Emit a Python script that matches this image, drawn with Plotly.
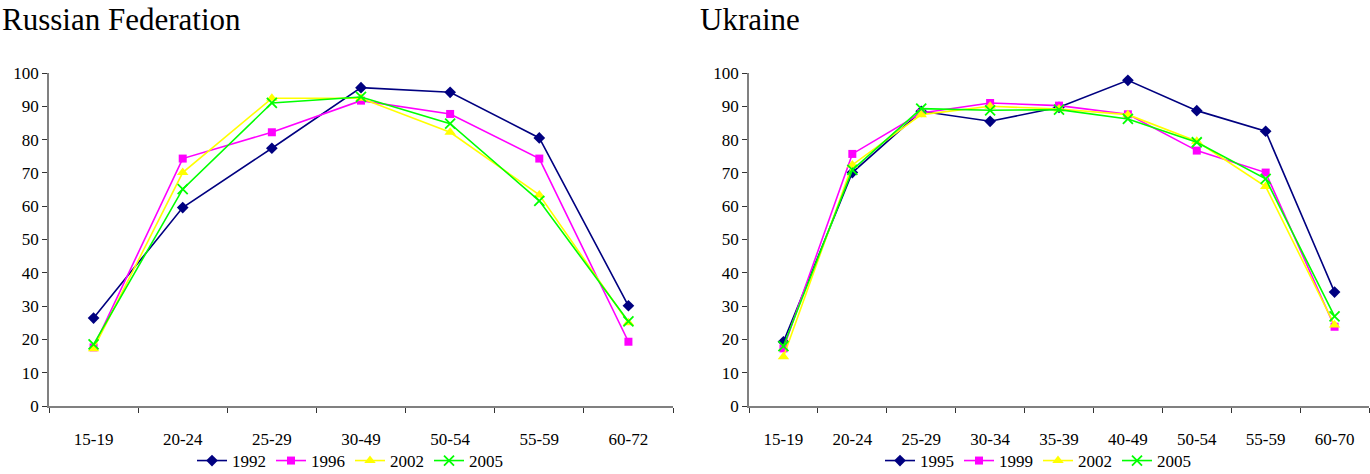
import plotly.graph_objects as go

# ---- data ----
ru_ages = ["15-19", "20-24", "25-29", "30-49", "50-54", "55-59", "60-72"]
ru_1992 = [26.4, 59.6, 77.4, 95.6, 94.2, 80.5, 30.1]
ru_1996 = [17.6, 74.3, 82.2, 91.7, 87.7, 74.3, 19.3]
ru_2002 = [17.2, 70.1, 92.4, 92.4, 82.2, 63.4, 25.0]
ru_2005 = [18.5, 65.1, 91.0, 92.8, 84.8, 61.6, 25.4]

ua_ages = ["15-19", "20-24", "25-29", "30-34", "35-39", "40-49", "50-54", "55-59", "60-70"]
ua_1995 = [19.3, 70.1, 88.5, 85.5, 89.7, 97.8, 88.7, 82.5, 34.2]
ua_1999 = [17.3, 75.7, 88.0, 91.0, 90.2, 87.6, 76.7, 70.1, 23.8]
ua_2002 = [14.8, 72.4, 87.5, 90.0, 89.2, 87.5, 79.5, 65.9, 24.3]
ua_2005 = [18.0, 70.9, 89.3, 88.8, 89.0, 86.2, 79.2, 68.2, 26.9]

ru_years = ["1992", "1996", "2002", "2005"]
ua_years = ["1995", "1999", "2002", "2005"]

styles = [
    dict(color="#000080", symbol="diamond", size=9),
    dict(color="#FF00FF", symbol="square", size=8),
    dict(color="#FFFF00", symbol="triangle-up", size=10),
    dict(color="#00FF00", symbol="x-thin", size=10),
]

FONT = "Liberation Serif"
fig = go.Figure()

def add(x, y, name, st, xa, ya, leg):
    marker = dict(symbol=st["symbol"], size=st["size"], color=st["color"])
    if st["symbol"] == "x-thin":
        marker["line"] = dict(color=st["color"], width=1.8)
    fig.add_trace(go.Scatter(
        x=x, y=y, name=name, mode="lines+markers",
        line=dict(color=st["color"], width=1.6),
        marker=marker, xaxis=xa, yaxis=ya, legend=leg,
    ))

for name, vals, st in zip(ru_years, [ru_1992, ru_1996, ru_2002, ru_2005], styles):
    add(ru_ages, vals, name, st, "x", "y", "legend")
for name, vals, st in zip(ua_years, [ua_1995, ua_1999, ua_2002, ua_2005], styles):
    add(ua_ages, vals, name, st, "x2", "y2", "legend2")

W, H = 1370, 474
ydom = [1 - 406 / H, 1 - 73 / H]

xcommon = dict(
    showline=True, linecolor="#808080", linewidth=1.5, automargin=False,
    ticks="outside", tickson="boundaries", ticklen=5, tickcolor="#333",
    showgrid=False, zeroline=False, ticklabelstandoff=17,
    tickfont=dict(family=FONT, size=17, color="#000"),
)
ycommon = dict(
    range=[0, 100], dtick=10, showline=True, linecolor="#808080", linewidth=1.5,
    automargin=False,
    ticks="outside", ticklen=5, tickcolor="#333", showgrid=False, zeroline=False,
    tickfont=dict(family=FONT, size=17, color="#000"),
)

legcommon = dict(orientation="h", yref="container", y=(474 - 443) / H,
                 xanchor="center", yanchor="top",
                 font=dict(family=FONT, size=17, color="#000"), itemwidth=30,
                 tracegroupgap=0, bgcolor="rgba(0,0,0,0)")

fig.update_layout(
    width=W, height=H,
    margin=dict(l=0, r=0, t=0, b=0, autoexpand=False),
    paper_bgcolor="white", plot_bgcolor="white",
    xaxis=dict(domain=[49 / W, 673 / W], anchor="y", range=[-0.5, 6.5], **xcommon),
    yaxis=dict(domain=ydom, anchor="x", **ycommon),
    xaxis2=dict(domain=[749 / W, 1369 / W], anchor="y2", range=[-0.5, 8.5], **xcommon),
    yaxis2=dict(domain=ydom, anchor="x2", **ycommon),
    legend=dict(x=350 / W, **legcommon),
    legend2=dict(x=1038 / W, **legcommon),
    annotations=[
        dict(text="Russian Federation", x=0, y=1, xref="paper", yref="paper",
             xanchor="left", yanchor="top", showarrow=False,
             font=dict(family=FONT, size=31, color="#000")),
        dict(text="Ukraine", x=698 / W, y=1, xref="paper", yref="paper",
             xanchor="left", yanchor="top", showarrow=False,
             font=dict(family=FONT, size=31, color="#000")),
    ],
)

fig.write_html("out.html", config={"displayModeBar": False},
               post_script="document.body.style.margin='0px';document.body.style.overflow='hidden';")
